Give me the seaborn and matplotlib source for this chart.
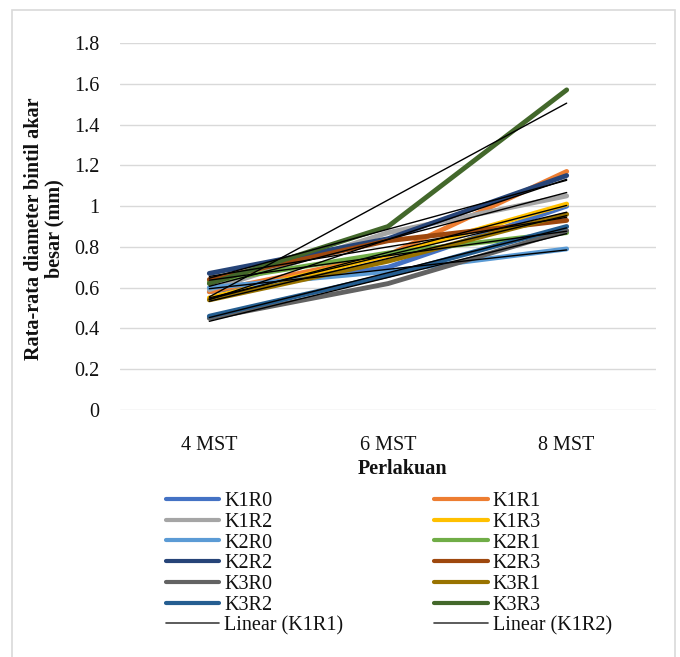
import numpy as np
import pandas as pd
import matplotlib
matplotlib.use("Agg")
import matplotlib.pyplot as plt
from matplotlib.patches import Rectangle
from matplotlib.lines import Line2D
import seaborn as sns

# ---- data ----
categories = ["4 MST", "6 MST", "8 MST"]
series_names = ["K1R0", "K1R1", "K1R2", "K1R3", "K2R0", "K2R1",
                "K2R2", "K2R3", "K3R0", "K3R1", "K3R2", "K3R3"]
K1R0 = [0.58, 0.70, 1.00]
K1R1 = [0.58, 0.76, 1.17]
K1R2 = [0.59, 0.87, 1.05]
K1R3 = [0.55, 0.76, 1.01]
K2R0 = [0.60, 0.68, 0.79]
K2R1 = [0.63, 0.77, 0.87]
K2R2 = [0.67, 0.84, 1.15]
K2R3 = [0.64, 0.83, 0.93]
K3R0 = [0.45, 0.62, 0.88]
K3R1 = [0.54, 0.73, 0.96]
K3R2 = [0.46, 0.66, 0.90]
K3R3 = [0.62, 0.90, 1.57]
values = [K1R0, K1R1, K1R2, K1R3, K2R0, K2R1, K2R2, K2R3, K3R0, K3R1, K3R2, K3R3]
colors = ["#4472C4", "#ED7D31", "#A5A5A5", "#FFC000", "#5B9BD5", "#70AD47",
          "#264478", "#9E480E", "#636363", "#997300", "#255E91", "#43682B"]
trend_labels = ["Linear (K1R1)", "Linear (K1R2)"]
yticks = [0, 0.2, 0.4, 0.6, 0.8, 1.0, 1.2, 1.4, 1.6, 1.8]
ytick_labels = ["0", "0.2", "0.4", "0.6", "0.8", "1", "1.2", "1.4", "1.6", "1.8"]

rows = []
for name, vals in zip(series_names, values):
    for i, (c, v) in enumerate(zip(categories, vals)):
        rows.append({"series": name, "cat": c, "pos": i, "val": v})
df = pd.DataFrame(rows)

sns.set_theme(style="white")
plt.rcParams["font.family"] = ["Liberation Serif", "DejaVu Serif"]
plt.rcParams["text.color"] = "#111111"
plt.rcParams["xtick.color"] = "#111111"
plt.rcParams["ytick.color"] = "#111111"
FS = 14.5

fig = plt.figure(figsize=(6.8, 6.57), dpi=100)
ax = fig.add_axes([120 / 680, 1 - 410 / 657, 536 / 680, 367 / 657])

for y in yticks:
    ax.axhline(y, color="#D9D9D9", lw=1.0, zorder=0)

palette = dict(zip(series_names, colors))
sns.lineplot(data=df, x="pos", y="val", hue="series", palette=palette,
             hue_order=series_names, lw=3.5, ax=ax, legend=False,
             solid_capstyle="round", zorder=3)

for name in series_names:
    sub = df[df["series"] == name]
    sns.regplot(data=sub, x="pos", y="val", scatter=False, ci=None, ax=ax,
                truncate=True, line_kws={"color": "black", "lw": 1.0, "zorder": 4})

ax.set_xlim(-0.5, 2.5)
ax.set_ylim(0, 1.8)
ax.set_xticks(range(len(categories)))
ax.set_xticklabels(categories, fontsize=FS)
ax.set_yticks(yticks)
ax.set_yticklabels(ytick_labels, fontsize=FS)
ax.tick_params(axis="x", length=0, pad=19)
ax.tick_params(axis="y", length=0, pad=15)
ax.set_xlabel("")
ax.set_ylabel("")
for s in ax.spines.values():
    s.set_visible(False)
ax.patch.set_alpha(0)

fig.text(402 / 680, 1 - 469 / 657, "Perlakuan", ha="center", va="center",
         fontsize=FS, fontweight="bold")
fig.text(44 / 680, 1 - 229 / 657, "Rata-rata diameter bintil akar\nbesar (mm)",
         rotation=90, ha="center", va="center", multialignment="center",
         fontsize=FS, fontweight="bold", linespacing=1.05)

handles = []
labels = []
for name, col in zip(series_names, colors):
    handles.append(Line2D([], [], color=col, lw=3.0, solid_capstyle="round"))
    labels.append(name)
for lab in trend_labels:
    handles.append(Line2D([], [], color="#404040", lw=1.2))
    labels.append(lab)
# reorder for row-wise filling in 2 columns
left = handles[0::2], labels[0::2]
right = handles[1::2], labels[1::2]
h_order = list(left[0]) + list(right[0])
l_order = list(left[1]) + list(right[1])
fig.legend(h_order, l_order, ncol=2, loc="upper left",
           bbox_to_anchor=(166 / 680, 1 - 492 / 657), frameon=False,
           fontsize=FS, handlelength=2.65, handletextpad=0.25,
           columnspacing=4.5, labelspacing=0.08, borderpad=0, borderaxespad=0)

fig.patches.append(Rectangle((12 / 680, -0.05), (675 - 12) / 680, 1.05 - 10 / 657,
                             transform=fig.transFigure, fill=False,
                             edgecolor="#D9D9D9", lw=1.2))

fig.savefig("out.png", dpi=100, facecolor="white")
